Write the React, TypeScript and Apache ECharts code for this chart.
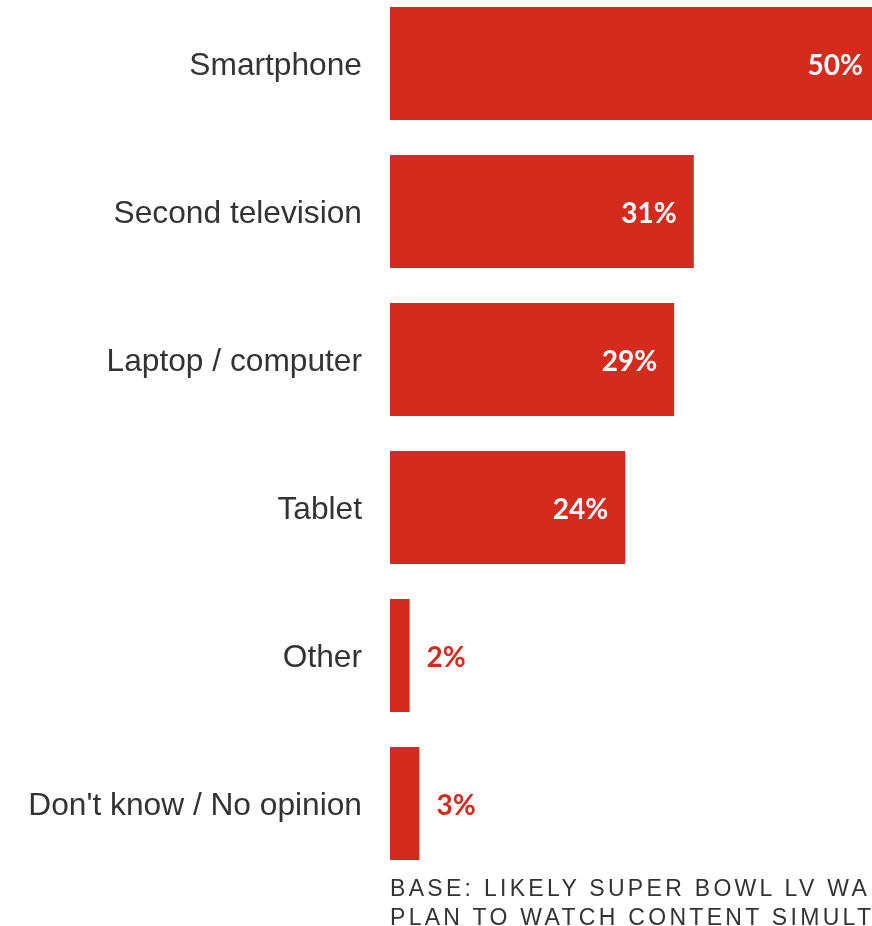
import React, { useEffect, useRef } from "react";
import * as echarts from "echarts";

const categories = [
  "Smartphone",
  "Second television",
  "Laptop / computer",
  "Tablet",
  "Other",
  "Don't know / No opinion",
];
const values = [50, 31, 29, 24, 2, 3];
const footerLines = [
  "BASE: LIKELY SUPER BOWL LV WA",
  "PLAN TO WATCH CONTENT SIMULT",
];

const RED = "#D42B1E";
const OFFSET = 20;

export default function App() {
  const ref = useRef<HTMLDivElement>(null);
  useEffect(() => {
    if (!ref.current) return;
    const chart = echarts.init(ref.current, undefined, { renderer: "svg" });
    const data = values.map((v) => {
      const inside = v >= 10;
      return {
        value: v,
        label: {
          show: true,
          position: inside ? "insideRight" : "right",
          distance: 17,
          color: inside ? "#ffffff" : RED,
          formatter: "{c}%",
          fontFamily: "Lato",
          fontWeight: "bold",
          fontSize: 28,
        },
      };
    });
    chart.setOption({
      animation: false,
      grid: { left: 390, width: 490, top: OFFSET - 10.5, height: 888, containLabel: false },
      xAxis: { type: "value", min: 0, max: 50, show: false, splitLine: { show: false } },
      yAxis: {
        type: "category",
        data: categories,
        inverse: true,
        axisLine: { show: false },
        axisTick: { show: false },
        axisLabel: {
          color: "#333333",
          fontSize: 31.7,
          fontFamily: "Liberation Sans",
          margin: 28,
        },
      },
      series: [
        {
          type: "bar",
          data,
          barWidth: 113,
          itemStyle: { color: RED },
        },
      ],
      graphic: footerLines.map((t, i) => ({
        type: "text",
        x: 390,
        y: OFFSET + 888 + i * 29,
        style: {
          text: t,
          fill: "#333333",
          font: "23px 'Liberation Sans'",
          lineHeight: 18,
          textVerticalAlign: "middle",
        },
      })),
    });
    const applySpacing = () => {
      ref.current?.querySelectorAll("text").forEach((el) => {
        const txt = el.textContent || "";
        if (footerLines.includes(txt)) {
          (el as SVGTextElement).style.letterSpacing = "3.3px";
        }
      });
    };
    applySpacing();
    chart.on("finished", applySpacing);
    return () => chart.dispose();
  }, []);
  return (
    <div
      ref={ref}
      style={{ position: "fixed", left: 0, top: -OFFSET, width: 900, height: 926 + OFFSET }}
    />
  );
}
